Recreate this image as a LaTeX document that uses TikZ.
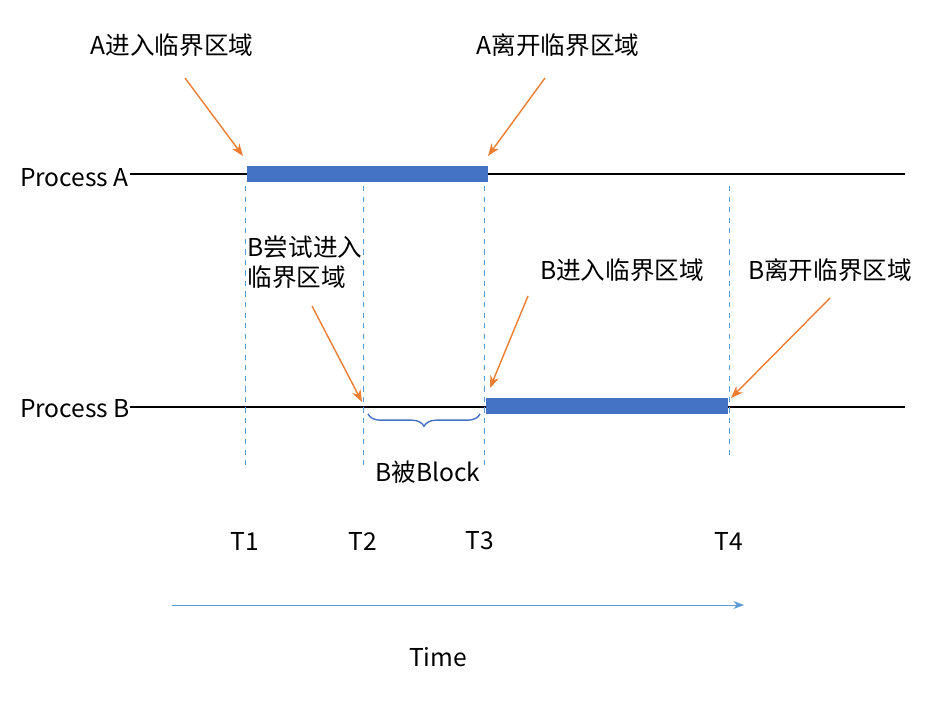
\documentclass[tikz,border=0pt]{standalone}
\usepackage{fontspec}
\setmainfont{Carlito}
\newfontfamily\cjk{Noto Sans CJK SC}
\usetikzlibrary{decorations.pathreplacing,arrows.meta}
\definecolor{barblue}{RGB}{68,114,196}
\definecolor{callout}{RGB}{237,125,49}
\definecolor{timeblue}{RGB}{91,155,213}
\tikzset{
  lbl/.style={font=\fontsize{14}{17}\selectfont\cjk, align=center, inner sep=1pt},
  bar/.style={line width=0.32cm, barblue},
  tick line/.style={dashed, thin, timeblue},
  pointer/.style={callout, thick, -{Stealth[length=7pt]}}
}
\begin{document}
\begin{tikzpicture}[x=0.02cm,y=-0.02cm]
        \useasboundingbox (0,0) rectangle (933,700);

        % Linee dei processi
        \node[lbl, anchor=west] (pa) at (18,178) {Process A};
        \node[lbl, anchor=west] (pb) at (18,409) {Process B};
        \draw[thick] (130,174) -- (905,174);
        \draw[thick] (130,407) -- (905,407);

        % Barre sezione critica
        \draw[bar] (247,174) -- (488,174);
        \draw[bar] (486,406) -- (728,406);

        % Linee tratteggiate
        \foreach \x/\y in {245/470, 363/470, 484/470, 729/460}
            \draw[tick line] (\x,186) -- (\x,\y);

        % Tempi
        \foreach \x/\t in {245/T1, 363/T2, 480/T3, 729/T4}
            \node[lbl] (\t) at (\x,541) {\t};

        % Asse del tempo
        \coordinate (t0) at (172,605);
        \coordinate (t1) at (744,605);
        \draw[timeblue, -{Stealth[length=6pt]}] (t0) -- (t1);
        \node[lbl] (time) at (438,657) {Time};

        % Etichette con frecce
        \node[lbl] (ain) at (172,45) {A进入临界区域};
        \coordinate (ain') at (243,156);
        \draw[pointer] (185,78) -- (ain');
        \node[lbl] (aout) at (558,45) {A离开临界区域};
        \coordinate (aout') at (488,156);
        \draw[pointer] (545,78) -- (aout');
        \node[lbl, align=left] (btry) at (305,262) {B尝试进入\\临界区域};
        \coordinate (btry') at (362,402);
        \draw[pointer] (312,306) -- (btry');
        \node[lbl] (bin) at (622,270) {B进入临界区域};
        \coordinate (bin') at (490,388);
        \draw[pointer] (528,296) -- (bin');
        \node[lbl] (bout) at (830,270) {B离开临界区域};
        \coordinate (bout') at (731,398);
        \draw[pointer] (830,298) -- (bout');

        % Graffa
        \draw[barblue, thick, decorate, decoration={brace, amplitude=7pt}]
            (480,414) -- (368,414);
        \node[lbl] (blk) at (428,472) {B被Block};

    \end{tikzpicture}
\end{document}
